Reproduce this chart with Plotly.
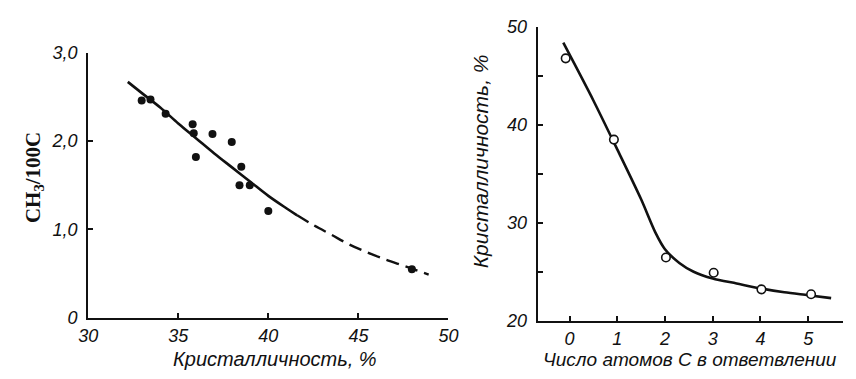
import plotly.graph_objects as go

# Left panel: CH3 per 100 C versus crystallinity
cryst_pts = [32.97, 33.46, 34.3, 35.8, 35.86, 35.98, 36.9, 37.97, 38.5, 38.4, 38.97, 40.0, 47.97]
ch3_pts = [2.46, 2.47, 2.31, 2.19, 2.09, 1.82, 2.08, 1.99, 1.71, 1.50, 1.50, 1.21, 0.55]

fit_solid_x = [32.2, 33.0, 34.0, 35.0, 36.0, 37.0, 38.0, 39.0, 40.0, 41.0, 41.6]
fit_solid_y = [2.67, 2.54, 2.38, 2.20, 2.03, 1.86, 1.70, 1.54, 1.38, 1.24, 1.16]
fit_dash_x = [41.6, 42.5, 43.5, 44.5, 45.5, 46.5, 47.5, 48.2, 48.9]
fit_dash_y = [1.16, 1.05, 0.94, 0.83, 0.74, 0.66, 0.59, 0.54, 0.49]

left_xticks = [30, 35, 40, 45, 50]
left_yticks = [0, 1, 2, 3]
left_ytext = ["0", "1,0", "2,0", "3,0"]

# Right panel: crystallinity versus branch length
branch_c = [-0.08, 0.93, 2.02, 3.02, 4.02, 5.06]
cryst_vals = [46.8, 38.5, 26.45, 24.9, 23.2, 22.7]

curve_x = [-0.13, 0.5, 1.0, 1.5, 1.8, 2.0, 2.3, 2.6, 3.0, 3.5, 4.0, 4.5, 5.0, 5.48]
curve_y = [48.4, 42.5, 37.5, 32.4, 29.0, 27.3, 25.9, 25.0, 24.3, 23.8, 23.3, 22.9, 22.6, 22.3]

right_xticks = [0, 1, 2, 3, 4, 5]
right_yticks = [20, 30, 40, 50]

W, H = 856, 379
INK = "#111111"
tick_font = dict(family="Liberation Sans", size=18, color=INK, style="italic")

fig = go.Figure()

fig.add_trace(go.Scatter(x=fit_solid_x, y=fit_solid_y, mode="lines",
                         line=dict(color=INK, width=2.6, shape="spline"),
                         xaxis="x", yaxis="y"))
fig.add_trace(go.Scatter(x=fit_dash_x, y=fit_dash_y, mode="lines",
                         line=dict(color=INK, width=2.4, dash="13px,7px", shape="spline"),
                         xaxis="x", yaxis="y"))
fig.add_trace(go.Scatter(x=cryst_pts, y=ch3_pts, mode="markers",
                         marker=dict(color=INK, size=8),
                         xaxis="x", yaxis="y"))

fig.add_trace(go.Scatter(x=curve_x, y=curve_y, mode="lines",
                         line=dict(color=INK, width=2.6, shape="spline", smoothing=0.8),
                         xaxis="x2", yaxis="y2"))
fig.add_trace(go.Scatter(x=branch_c, y=cryst_vals, mode="markers",
                         marker=dict(color="white", size=8.5,
                                     line=dict(color=INK, width=1.6)),
                         xaxis="x2", yaxis="y2"))

axis_common = dict(showgrid=False, zeroline=False, showline=True,
                   linecolor=INK, linewidth=2, ticks="inside",
                   tickcolor=INK, tickwidth=1.5, ticklen=5,
                   tickfont=tick_font, fixedrange=True)

fig.update_layout(
    width=W, height=H,
    margin=dict(l=0, r=0, t=0, b=0),
    paper_bgcolor="white", plot_bgcolor="white",
    showlegend=False,
    xaxis=dict(domain=[0.0935, 0.5245], range=[30, 50], tickvals=left_xticks,
               anchor="y", ticklabelstandoff=1, **axis_common),
    yaxis=dict(domain=[0.1425, 0.881], range=[0, 3], tickvals=left_yticks,
               ticktext=left_ytext, anchor="x", ticklabelstandoff=5, **axis_common),
    xaxis2=dict(domain=[0.631, 0.9965], range=[-0.67, 5.73], tickvals=right_xticks,
                anchor="y2", ticklabelstandoff=1, **axis_common),
    yaxis2=dict(domain=[0.1346, 0.9525], range=[20, 50], tickvals=right_yticks,
                anchor="x2", ticklabelstandoff=5,
                minor=dict(tickvals=[25, 35, 45], ticks="inside", ticklen=5,
                           tickcolor=INK, tickwidth=1.5),
                **axis_common),
)


def px_note(text, x, y, font, angle=0):
    """Place a text label at pixel position (x, y) measured from the top-left."""
    fig.add_annotation(text=text, x=x / W, y=1 - y / H, xref="paper", yref="paper",
                       xanchor="center", yanchor="middle", textangle=angle,
                       showarrow=False, font=font)


px_note("Кристалличность, %", 271, 368,
        dict(family="Liberation Sans", size=20, color=INK, style="italic"))
px_note("Число атомов С в ответвлении", 696, 369,
        dict(family="Liberation Sans", size=19, color=INK, style="italic"))
px_note("<b>CH<sub>3</sub>/100C</b>", 24, 177,
        dict(family="Liberation Serif", size=21, color=INK), angle=-90)
px_note("Кристалличность, %", 482, 160,
        dict(family="Liberation Sans", size=21, color=INK, style="italic"), angle=-90)

fig.write_html("out.html")
